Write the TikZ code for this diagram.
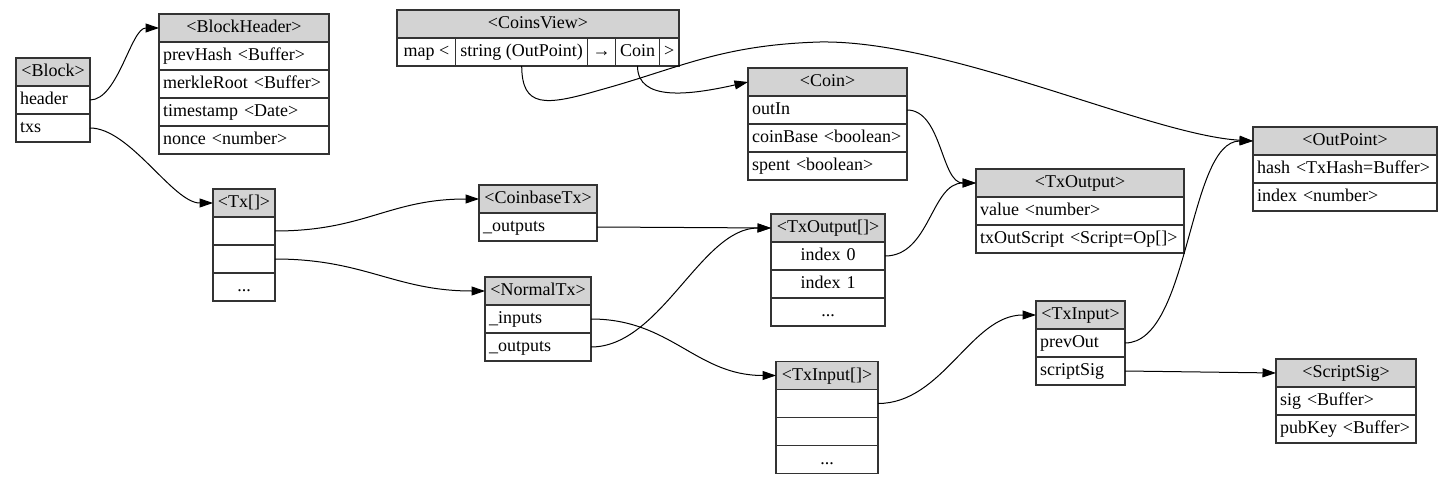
\documentclass[tikz,border=0pt]{standalone}
\usepackage{fontspec}
\setmainfont{Liberation Serif}
\usepackage{tikz}
\usetikzlibrary{positioning,arrows.meta}
\definecolor{hdgray}{HTML}{D3D3D3}

\begin{document}
\begin{tikzpicture}[x=1pt, y=-1pt,
  cell/.style={draw=black!80, line width=1.1pt, minimum height=28pt, inner xsep=4pt, inner ysep=0pt,
    outer sep=0pt, text height=12.5pt, text depth=3.5pt, font=\fontsize{18pt}{21pt}\selectfont},
  hd/.style={cell, fill=hdgray, anchor=north west, text width=#1, align=center},
  fld/.style={cell, text width=#1, align=left},
  cfld/.style={cell, text width=#1, align=center},
  slot/.style={cell, minimum width=#1, inner xsep=0pt},
  link/.style={line width=1pt, -{Triangle[length=13.5pt,width=9pt]}}]
  \useasboundingbox (0,0) rectangle (1453,484);

  \node[hd=66pt] (B) at (16,58) {<Block>};
  \node[fld=66pt, below=0pt of B] (B1) {header};
  \node[fld=66pt, below=0pt of B1] (B2) {txs};

  \node[hd=162pt] (BH) at (159,14) {<BlockHeader>};
  \node[fld=162pt, below=0pt of BH] (BH1) {prevHash <Buffer>};
  \node[fld=162pt, below=0pt of BH1] (BH2) {merkleRoot <Buffer>};
  \node[fld=162pt, below=0pt of BH2] (BH3) {timestamp <Date>};
  \node[fld=162pt, below=0pt of BH3] (BH4) {nonce <number>};

  \node[hd=274pt] (CV) at (397,10) {<CoinsView>};
  \node[slot=58.7pt, anchor=north west] (CV1) at (CV.south west) {map <};
  \node[slot=132pt, right=0pt of CV1] (CV2) {string (OutPoint)};
  \node[slot=28pt, right=0pt of CV2] (CV3) {→};
  \node[slot=43.6pt, right=0pt of CV3] (CV4) {Coin};
  \node[slot=19.7pt, right=0pt of CV4] (CV5) {>};

  \node[hd=54pt] (T) at (213,189) {<Tx[]>};
  \node[cfld=54pt, below=0pt of T] (T1) {};
  \node[cfld=54pt, below=0pt of T1] (T2) {};
  \node[cfld=54pt, below=0pt of T2] (T3) {...};

  \node[hd=110pt] (CB) at (479,185) {<CoinbaseTx>};
  \node[fld=110pt, below=0pt of CB] (CB1) {\_outputs};

  \node[hd=98pt] (NT) at (485,277) {<NormalTx>};
  \node[fld=98pt, below=0pt of NT] (NT1) {\_inputs};
  \node[fld=98pt, below=0pt of NT1] (NT2) {\_outputs};

  \node[hd=106pt] (TOA) at (771,214) {<TxOutput[]>};
  \node[cfld=106pt, below=0pt of TOA] (TOA1) {index 0};
  \node[cfld=106pt, below=0pt of TOA1] (TOA2) {index 1};
  \node[cfld=106pt, below=0pt of TOA2] (TOA3) {...};

  \node[hd=94pt] (TIA) at (776,361.5) {<TxInput[]>};
  \node[cfld=94pt, below=0pt of TIA] (TIA1) {};
  \node[cfld=94pt, below=0pt of TIA1] (TIA2) {};
  \node[cfld=94pt, below=0pt of TIA2] (TIA3) {...};

  \node[hd=151pt] (C) at (748,68) {<Coin>};
  \node[fld=151pt, below=0pt of C] (C1) {outIn};
  \node[fld=151pt, below=0pt of C1] (C2) {coinBase <boolean>};
  \node[fld=151pt, below=0pt of C2] (C3) {spent <boolean>};

  \node[hd=200pt] (TO) at (976,169) {<TxOutput>};
  \node[fld=200pt, below=0pt of TO] (TO1) {value <number>};
  \node[fld=200pt, below=0pt of TO1] (TO2) {txOutScript <Script=Op[]>};

  \node[hd=176pt] (OP) at (1253,127) {<OutPoint>};
  \node[fld=176pt, below=0pt of OP] (OP1) {hash <TxHash=Buffer>};
  \node[fld=176pt, below=0pt of OP1] (OP2) {index <number>};

  \node[hd=81pt] (TI) at (1036,301) {<TxInput>};
  \node[fld=81pt, below=0pt of TI] (TI1) {prevOut};
  \node[fld=81pt, below=0pt of TI1] (TI2) {scriptSig};

  \node[hd=132pt] (SS) at (1276,359) {<ScriptSig>};
  \node[fld=132pt, below=0pt of SS] (SS1) {sig <Buffer>};
  \node[fld=132pt, below=0pt of SS1] (SS2) {pubKey <Buffer>};

  \draw[link] (B1.east) to[out=0, in=180, distance=28pt] (BH.west);
  \draw[link] (B2.east) to[out=0, in=180, distance=40pt] (T.west);
  \draw[link] (T1.east) to[out=0, in=180, distance=90pt] (CB.west);
  \draw[link] (T2.east) to[out=0, in=180, distance=90pt] (NT.west);
  \draw[link] (CB1.east) -- (TOA.west);
  \draw[link] (NT2.east) to[out=0, in=180, distance=70pt] (TOA.west);
  \draw[link] (NT1.east) to[out=0, in=180, distance=80pt] (TIA.west);
  \draw[link] (TIA1.east) to[out=0, in=180, distance=65pt] (TI.west);
  \draw[link] (TI1.east) to[out=0, in=180, distance=65pt] (OP.west);
  \draw[link] (TI2.east) -- (SS.west);
  \draw[link] (TOA1.east) to[out=0, in=180, distance=45pt] (TO.west);
  \draw[link] (C1.east) to[out=0, in=180, distance=35pt] (TO.west);
  \draw[link] (CV4.south) .. controls +(0,36) and +(-58,13) .. (C.west);
  \draw[link] (CV2.south) .. controls (522,108) and (545,106) .. (600,90)
    .. controls (680,68) and (720,45) .. (820,42)
    .. controls (950,40) and (1150,135) .. (OP.west);
\end{tikzpicture}
\end{document}
